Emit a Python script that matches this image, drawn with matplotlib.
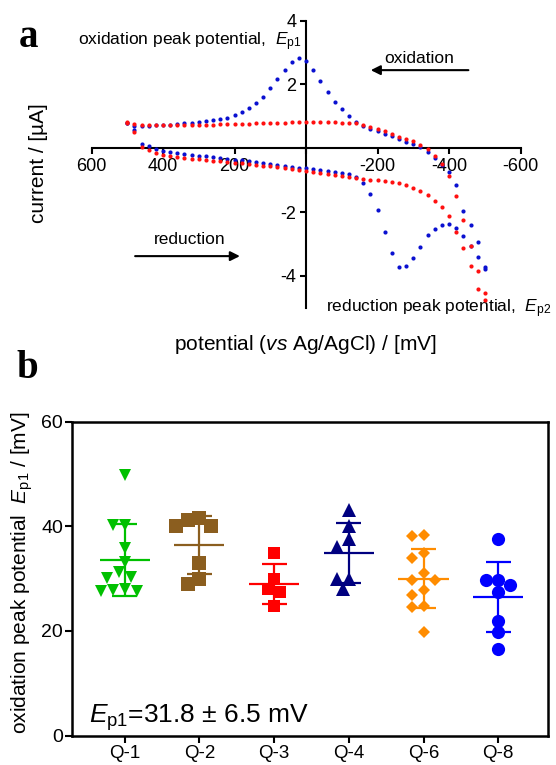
import numpy as np
import matplotlib
matplotlib.use("Agg")
import matplotlib.pyplot as plt

plt.rcParams['font.family'] = ['Liberation Sans', 'DejaVu Sans']
plt.rcParams['mathtext.fontset'] = 'custom'
plt.rcParams['mathtext.rm'] = 'Liberation Sans'
plt.rcParams['mathtext.it'] = 'Liberation Sans:italic'

# ---- panel a: cyclic voltammograms, potential swept in 20 mV steps ----
sweep_down = np.arange(500, -501, -20)   # reduction sweep, +500 -> -500 mV
sweep_up = sweep_down[::-1]              # oxidation sweep, -500 -> +500 mV

red_reduction = [0.80, 0.52, 0.05, -0.06, -0.14, -0.20, -0.24, -0.27, -0.30, -0.32,
                 -0.35, -0.37, -0.39, -0.41, -0.43, -0.45, -0.47, -0.49, -0.51, -0.54,
                 -0.57, -0.60, -0.63, -0.66, -0.68, -0.71, -0.75, -0.78, -0.80, -0.83,
                 -0.86, -0.89, -0.92, -0.95, -0.98, -1.00, -1.03, -1.06, -1.10, -1.16,
                 -1.25, -1.34, -1.46, -1.64, -1.84, -2.12, -2.62, -3.12, -3.70, -4.40,
                 -4.75]
red_oxidation = [-4.55, -3.85, -3.05, -2.25, -1.50, -0.88, -0.50, -0.24, -0.02, 0.10,
                 0.22, 0.28, 0.35, 0.44, 0.54, 0.60, 0.67, 0.74, 0.79, 0.80,
                 0.80, 0.81, 0.82, 0.82, 0.83, 0.83, 0.82, 0.81, 0.80, 0.80,
                 0.79, 0.78, 0.78, 0.77, 0.76, 0.76, 0.75, 0.75, 0.74, 0.74,
                 0.73, 0.73, 0.72, 0.72, 0.72, 0.72, 0.72, 0.72, 0.73, 0.75,
                 0.82]
blue_reduction = [0.80, 0.58, 0.15, 0.06, -0.03, -0.09, -0.12, -0.15, -0.18, -0.20,
                  -0.23, -0.25, -0.28, -0.30, -0.33, -0.36, -0.38, -0.41, -0.44, -0.47,
                  -0.50, -0.53, -0.56, -0.58, -0.61, -0.63, -0.66, -0.68, -0.70, -0.73,
                  -0.76, -0.80, -0.90, -1.10, -1.42, -1.92, -2.62, -3.28, -3.72, -3.70,
                  -3.45, -3.10, -2.72, -2.52, -2.40, -2.38, -2.50, -2.75, -3.05, -3.40,
                  -3.78]
blue_oxidation = [-3.72, -2.95, -2.40, -1.95, -1.15, -0.75, -0.52, -0.30, -0.12, 0.03,
                  0.13, 0.21, 0.29, 0.37, 0.46, 0.54, 0.62, 0.71, 0.84, 1.02,
                  1.22, 1.44, 1.75, 2.10, 2.45, 2.74, 2.83, 2.72, 2.45, 2.18,
                  1.88, 1.62, 1.42, 1.26, 1.15, 1.04, 0.96, 0.91, 0.88, 0.85,
                  0.83, 0.80, 0.78, 0.76, 0.74, 0.73, 0.72, 0.71, 0.70, 0.71,
                  0.78]

# ---- panel b: oxidation peak potential per sample ----
samples = ['Q-1', 'Q-2', 'Q-3', 'Q-4', 'Q-6', 'Q-8']
ep1 = {
    'Q-1': [49.8, 40.2, 40.2, 35.8, 33.1, 31.2, 30.3, 30.1, 27.6, 27.8, 27.6, 27.9],
    'Q-2': [41.5, 41.1, 40.0, 40.0, 32.9, 29.9, 29.0],
    'Q-3': [34.9, 29.9, 27.9, 27.4, 24.8],
    'Q-4': [43.0, 40.0, 37.6, 36.0, 29.9, 29.9, 28.0],
    'Q-6': [38.3, 38.1, 34.9, 33.9, 31.0, 29.8, 29.8, 27.8, 26.9, 24.6, 24.8, 19.8],
    'Q-8': [37.5, 29.7, 29.7, 28.8, 27.5, 21.8, 19.7, 16.6],
}
colors = ['#00c000', '#8b5e1f', '#ff0000', '#000080', '#ff8c00', '#0000ff']
markers = ['v', 's', 's', '^', 'D', 'o']
msizes = [9, 10, 9, 9.5, 6.5, 9.5]


def swarm(vals, step, row_h, gap=0.8):
    # spread points sideways so markers don't sit on top of each other
    vals = np.asarray(vals, float)
    offs = np.zeros(len(vals))
    placed = []
    cands = sorted([k * step / 2 for k in range(-8, 9)], key=lambda c: (abs(c), c))
    for i in np.argsort(-vals):
        y = vals[i]
        for c in cands:
            if all(((c - px) / step) ** 2 + ((y - py) / row_h) ** 2 >= gap for px, py in placed):
                break
        offs[i] = c
        placed.append((c, y))
    return offs


W, H = 556, 765
fig = plt.figure(figsize=(W / 100, H / 100), dpi=100)


def fx(px):
    return px / W


def fy(py):
    return 1 - py / H


# panel a
ax = fig.add_axes([fx(91.5), fy(307.8), 429.1 / W, 287.1 / H])
ax.scatter(sweep_down, blue_reduction, s=9, color='#0a10d0', lw=0, zorder=3)
ax.scatter(sweep_up, blue_oxidation, s=9, color='#0a10d0', lw=0, zorder=3)
ax.scatter(sweep_down, red_reduction, s=9, color='#ff1010', lw=0, zorder=4)
ax.scatter(sweep_up, red_oxidation, s=9, color='#ff1010', lw=0, zorder=4)

ax.set_xlim(600, -600)
ax.set_ylim(-5, 4)
for side in ['top', 'right']:
    ax.spines[side].set_visible(False)
ax.spines['left'].set_position(('data', 0))
ax.spines['bottom'].set_position(('data', 0))
for side in ['left', 'bottom']:
    ax.spines[side].set_linewidth(1.5)
xt = [600, 400, 200, 0, -200, -400, -600]
ax.set_xticks(xt)
ax.set_xticklabels(['' if v == 0 else str(v) for v in xt])
yt = [4, 2, 0, -2, -4]
ax.set_yticks(yt)
ax.set_yticklabels(['' if v == 0 else str(v) for v in yt])
ax.tick_params(direction='out', length=4.5, width=1.5, labelsize=13, pad=2.5)

ax.text(13, 3.34, r'oxidation peak potential,  $\mathit{E}_{\mathrm{p1}}$',
        ha='right', va='center', fontsize=12.5)
ax.text(-57, -5.02, r'reduction peak potential,  $\mathit{E}_{\mathrm{p2}}$',
        ha='left', va='center', fontsize=12.5)
ax.text(-317, 2.82, 'oxidation', ha='center', va='center', fontsize=12.5)
ax.text(326, -2.87, 'reduction', ha='center', va='center', fontsize=12.5)
arrow = dict(arrowstyle='-|>', lw=1.5, color='black', mutation_scale=14,
             shrinkA=0, shrinkB=0)
ax.annotate('', xy=(-181, 2.45), xytext=(-454, 2.45), arrowprops=arrow)
ax.annotate('', xy=(185, -3.38), xytext=(478, -3.38), arrowprops=arrow)

fig.text(fx(39), fy(163), 'current / [µA]', rotation=90, ha='center', va='center',
         fontsize=15)
fig.text(fx(305), fy(345), r'potential ($\mathit{vs}$ Ag/AgCl) / [mV]',
         ha='center', va='center', fontsize=15)
fig.text(fx(19), fy(47), 'a', family='Liberation Serif', weight='bold', fontsize=28,
         va='baseline')

# panel b
bx = fig.add_axes([fx(72), fy(735.5), 476 / W, 314 / H])
pos = np.arange(1, len(samples) + 1)
for x0, name, c, m, ms in zip(pos, samples, colors, markers, msizes):
    vals = np.array(ep1[name])
    xs = x0 + swarm(vals, 0.16, 2.3)
    bx.plot(xs, vals, ls='none', marker=m, ms=ms, color=c, mec=c, mew=0, zorder=3)
    mean, sd = vals.mean(), vals.std(ddof=1)
    bx.hlines(mean, x0 - 0.335, x0 + 0.335, color=c, lw=1.6, zorder=4)
    bx.hlines([mean - sd, mean + sd], x0 - 0.167, x0 + 0.167, color=c, lw=1.6, zorder=4)
    bx.vlines(x0, mean - sd, mean + sd, color=c, lw=1.6, zorder=4)

bx.set_xlim(0.293, 6.667)
bx.set_ylim(0, 60)
bx.set_xticks(pos)
bx.set_xticklabels(samples)
bx.set_yticks([0, 20, 40, 60])
for side in bx.spines.values():
    side.set_linewidth(1.8)
bx.tick_params(direction='out', length=5, width=1.5, labelsize=14, pad=1.5)
bx.tick_params(axis='x', labelsize=13.5)
bx.text(0.524, 3.4, r'$\mathit{E}_{\mathrm{p1}}$=31.8 ± 6.5 mV', ha='left', va='center',
        fontsize=19)

fig.text(fx(22.5), fy(573), r'oxidation peak potential  $\mathit{E}_{\mathrm{p1}}$ / [mV]',
         rotation=90, ha='center', va='center', fontsize=15)
fig.text(fx(16), fy(378), 'b', family='Liberation Serif', weight='bold', fontsize=28,
         va='baseline')

fig.savefig('out.png', dpi=100)
